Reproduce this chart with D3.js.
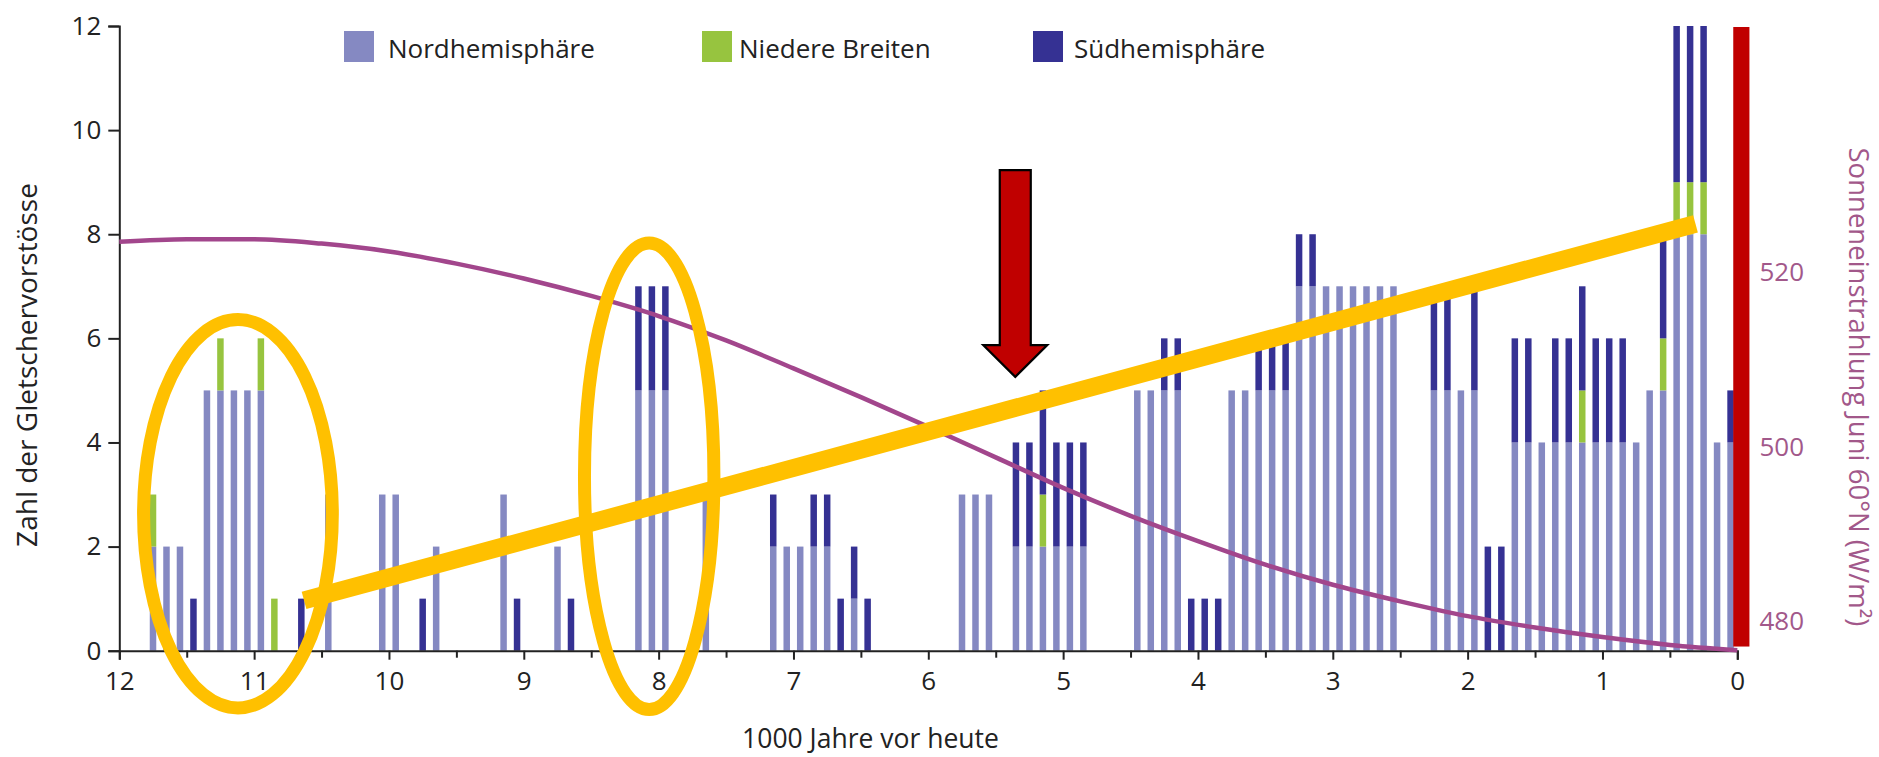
<!DOCTYPE html>
<html><head><meta charset="utf-8">
<script src="https://cdn.jsdelivr.net/npm/d3@7/dist/d3.min.js"></script>
<style>
html,body{margin:0;padding:0;background:#fff;}
text{font-family:"Open Sans",sans-serif;}
</style></head>
<body>
<svg id="chart" width="1879" height="757"></svg>
<script>
// ---- data ----
const ages   = [11.75,11.65,11.55,11.45,11.35,11.25,11.15,11.05,10.95,10.85,10.65,10.45,10.05,9.95,9.75,9.65,9.15,9.05,8.75,8.65,8.15,8.05,7.95,7.65,7.15,7.05,6.95,6.85,6.75,6.65,6.55,6.45,5.75,5.65,5.55,5.35,5.25,5.15,5.05,4.95,4.85,4.45,4.35,4.25,4.15,4.05,3.95,3.85,3.75,3.65,3.55,3.45,3.35,3.25,3.15,3.05,2.95,2.85,2.75,2.65,2.55,2.25,2.15,2.05,1.95,1.85,1.75,1.65,1.55,1.45,1.35,1.25,1.15,1.05,0.95,0.85,0.75,0.65,0.55,0.45,0.35,0.25,0.15,0.05];
const nord   = [2,2,2,0,5,5,5,5,5,0,0,3,3,3,0,2,3,0,2,0,5,5,5,3,2,2,2,2,2,0,1,0,3,3,3,2,2,2,2,2,2,5,5,5,5,0,0,0,5,5,5,5,5,7,7,7,7,7,7,7,7,5,5,5,5,0,0,4,4,4,4,4,4,4,4,4,4,5,5,8,8,8,4,4];
const niedere= [1,0,0,0,0,1,0,0,1,1,0,0,0,0,0,0,0,0,0,0,0,0,0,0,0,0,0,0,0,0,0,0,0,0,0,0,0,1,0,0,0,0,0,0,0,0,0,0,0,0,0,0,0,0,0,0,0,0,0,0,0,0,0,0,0,0,0,0,0,0,0,0,1,0,0,0,0,0,1,1,1,1,0,0];
const sued   = [0,0,0,1,0,0,0,0,0,0,1,0,0,0,1,0,0,1,0,1,2,2,2,0,1,0,0,1,1,1,1,1,0,0,0,2,2,2,2,2,2,0,0,1,1,1,1,1,0,0,1,1,1,1,1,0,0,0,0,0,0,2,2,0,2,2,2,2,2,0,2,2,2,2,2,2,0,0,2,3,3,3,0,1];
const seriesNames = ["Nordhemisphäre","Niedere Breiten","Südhemisphäre"];
// insolation June 60°N (W/m²)
const insolAge = [12,11.5,11,10.5,10,9.5,9,8.5,8,7.5,7,6.5,6,5.5,5,4.5,4,3.5,3,2.5,2,1.5,1,0.5,0];
const insolVal = [523.5,523.8,523.8,523.3,522.4,521.0,519.3,517.3,515.0,512.2,509.0,505.7,502.3,498.8,495.3,492.1,489.2,486.5,484.2,482.3,480.6,479.3,478.2,477.3,476.7];
const xTicks = [12,11,10,9,8,7,6,5,4,3,2,1,0];
const yTicks = [0,2,4,6,8,10,12];
const rTicks = [480,500,520];
const xTitle = "1000 Jahre vor heute";
const yTitle = "Zahl der Gletschervorstösse";
const rTitle = "Sonneneinstrahlung Juni 60°N (W/m²)";

// ---- styles / layout ----
const colors = ["#8589c2","#97c43f","#353193"];
const svg = d3.select("#chart");
const x = d3.scaleLinear().domain([12,0]).range([119.3,1737.3]);
const y = d3.scaleLinear().domain([0,12]).range([650.7,26]);
const yR = d3.scaleLinear().domain([476.64,548.24]).range([650.7,26]);
const barW = 6.5;

// stacked bars
const rows = ages.map((a,i)=>({age:a, n:nord[i], l:niedere[i], s:sued[i]}));
const stack = d3.stack().keys(["n","l","s"])(rows);
svg.append("g").selectAll("g").data(stack).join("g")
  .attr("fill",(d,i)=>colors[i])
  .selectAll("rect").data(d=>d.filter(v=>v[1]>v[0])).join("rect")
  .attr("x",d=>x(d.data.age)-barW/2)
  .attr("width",barW)
  .attr("y",d=>y(d[1]))
  .attr("height",d=>y(d[0])-y(d[1]));

// axes
const axisColor="#222";
const gx = svg.append("g").attr("transform",`translate(0,${y(0)})`)
  .call(d3.axisBottom(x).tickValues(d3.range(0,12.01,0.5)).tickSize(9).tickFormat(d=>xTicks.includes(d)?d:""));
gx.select(".domain").attr("stroke",axisColor).attr("stroke-width",2);
gx.selectAll(".tick line").attr("stroke",axisColor).attr("stroke-width",2);
gx.selectAll(".tick").filter(d=>!Number.isInteger(d)).select("line").attr("y2",7);
gx.selectAll(".tick text").attr("font-size",26).attr("fill","#222").attr("dy","1.05em").attr("font-family","Open Sans");

const gy = svg.append("g").attr("transform",`translate(${x(12)},0)`)
  .call(d3.axisLeft(y).tickValues(yTicks).tickSize(11).tickPadding(7));
gy.select(".domain").attr("stroke",axisColor).attr("stroke-width",2);
gy.selectAll(".tick line").attr("stroke",axisColor).attr("stroke-width",2);
gy.selectAll(".tick text").attr("font-size",26).attr("fill","#222").attr("font-family","Open Sans");

// insolation curve
svg.append("path").datum(insolAge.map((a,i)=>[a,insolVal[i]]))
  .attr("fill","none").attr("stroke","#a2468c").attr("stroke-width",4.5)
  .attr("d",d3.line().x(d=>x(d[0])).y(d=>yR(d[1])).curve(d3.curveMonotoneX));

// right axis (red bar)
const redBar = {x0:0.03, x1:-0.09, top:12, bottom:0.08};
svg.append("rect").attr("fill","#c00000")
  .attr("x",x(redBar.x0)).attr("width",x(redBar.x1)-x(redBar.x0))
  .attr("y",y(redBar.top)+1).attr("height",y(redBar.bottom)-y(redBar.top)-1);
const gr = svg.append("g").attr("transform",`translate(${x(redBar.x1)},0)`)
  .call(d3.axisRight(yR).tickValues(rTicks).tickSize(0).tickPadding(10).tickFormat(d3.format("d")));
gr.select(".domain").remove();
gr.selectAll(".tick text").attr("font-size",26).attr("fill","#a2588a").attr("font-family","Open Sans");

// titles
svg.append("text").attr("x",870.5).attr("y",748).attr("text-anchor","middle")
  .attr("font-size",26.5).attr("fill","#222").text(xTitle);
svg.append("text").attr("transform",`translate(37,${365}) rotate(-90)`).attr("text-anchor","middle")
  .attr("font-size",28).attr("fill","#222").text(yTitle);
svg.append("text").attr("transform",`translate(1849,${387}) rotate(90)`).attr("text-anchor","middle")
  .attr("font-size",27.5).attr("fill","#a2588a").text(rTitle);

// legend
const legX = [344,702,1033], legTX=[388,739,1074];
const lg = svg.append("g");
seriesNames.forEach((nm,i)=>{
  lg.append("rect").attr("x",legX[i]).attr("y",31).attr("width",30).attr("height",31).attr("fill",colors[i]);
  lg.append("text").attr("x",legTX[i]).attr("y",58).attr("font-size",26).attr("fill","#222").text(nm);
});

// annotations (in data coordinates)
const ellipses = [{cx:11.12,cy:2.63,rx:0.70,ry:3.73},{cx:8.07,cy:3.35,rx:0.48,ry:4.48}];
svg.append("g").selectAll("ellipse").data(ellipses).join("ellipse")
  .attr("cx",d=>x(d.cx)).attr("cy",d=>y(d.cy))
  .attr("rx",d=>x(d.cx-d.rx)-x(d.cx)).attr("ry",d=>y(d.cy-d.ry)-y(d.cy))
  .attr("fill","none").attr("stroke","#ffc000").attr("stroke-width",13);
const trend = [[10.63,0.966],[0.31,8.20]];
svg.append("line").attr("x1",x(trend[0][0])).attr("y1",y(trend[0][1]))
  .attr("x2",x(trend[1][0])).attr("y2",y(trend[1][1]))
  .attr("stroke","#ffc000").attr("stroke-width",18);
const arrow = {ka:5.355, top:9.23, neck:5.87, tip:5.26, shaft:15.5, head:32};
const ax = x(arrow.ka);
svg.append("path").attr("fill","#c00000").attr("stroke","#000").attr("stroke-width",2.2)
  .attr("stroke-linejoin","miter")
  .attr("d",`M${ax-arrow.shaft},${y(arrow.top)} L${ax+arrow.shaft},${y(arrow.top)} L${ax+arrow.shaft},${y(arrow.neck)} L${ax+arrow.head},${y(arrow.neck)} L${ax},${y(arrow.tip)} L${ax-arrow.head},${y(arrow.neck)} L${ax-arrow.shaft},${y(arrow.neck)} Z`);
</script>
</body></html>
